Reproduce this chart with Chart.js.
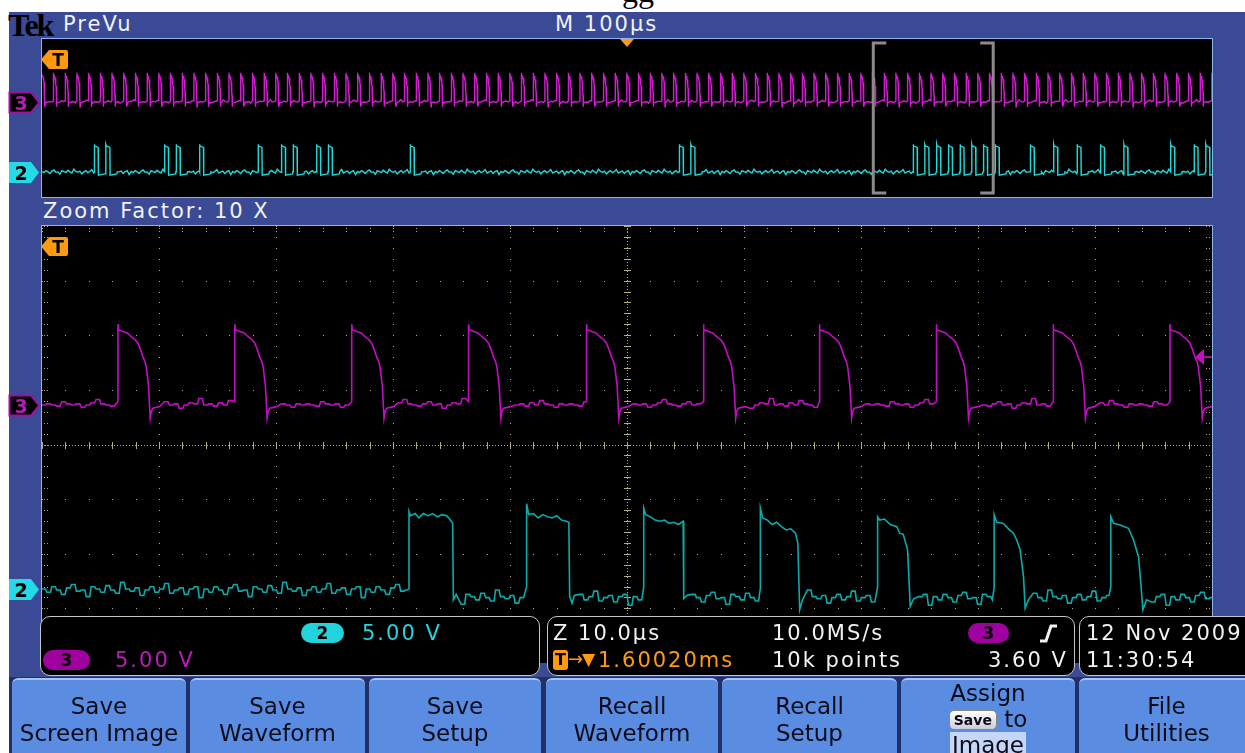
<!DOCTYPE html>
<html lang="en">
<head>
<meta charset="utf-8">
<title>Tek PreVu</title>
<script src="https://cdn.jsdelivr.net/npm/chart.js"></script>
<style>
  body{margin:0;width:1245px;height:753px;background:#fff;position:relative;overflow:hidden;font-family:"DejaVu Sans",sans-serif}
  .abs{position:absolute}
  #scope{left:9px;top:12px;width:1236px;height:665px;background:#3a4a94}
  .panel{border:1px solid #8db4ea;background:#000}
  .lbl{color:#f2f2f2;font-size:21px;letter-spacing:2px;line-height:24px;white-space:nowrap}
  .box{top:616px;height:58px;border:1.5px solid #c4c4c4;border-radius:10px;background:#000}
  .pill{display:inline-block;height:20px;border-radius:10px;color:#000;font-weight:bold;font-size:17px;line-height:20px;text-align:center}
  #keys{left:9px;top:677px;width:1236px;height:76px;background:#22306a}
  .btn{top:678px;height:80px;background:#5a8ce2;border-top:2px solid #a6c4f4;border-radius:6px 6px 0 0;color:#0c0c18;font-size:23px;line-height:27px;text-align:center;box-sizing:border-box;padding-top:13px;white-space:nowrap}
</style>
</head>
<body>
<div class="abs" style="left:622px;top:-24px;font:32px 'Liberation Serif';line-height:30px;color:#000">gg</div>
<div id="scope" class="abs"></div>

<div class="abs" style="left:8px;top:9px;font:bold 32px 'Liberation Serif';letter-spacing:-2px;color:#000;line-height:32px">Tek</div>
<div class="abs lbl" style="left:63px;top:12px">PreVu</div>
<div class="abs lbl" style="left:555px;top:12px">M 100µs</div>
<div class="abs lbl" style="left:43px;top:199px">Zoom Factor: 10 X</div>

<div class="abs panel" style="left:41px;top:38px;width:1170px;height:158px"><canvas id="prev" width="1170" height="158"></canvas></div>
<div class="abs panel" style="left:41px;top:225px;width:1170px;height:437px;border-bottom:none"><canvas id="zoom" width="1170" height="437"></canvas></div>

<!-- trigger tags -->
<svg class="abs" style="left:41px;top:49px" width="28" height="22"><path d="M0 10.5 L8 1 H25 Q27 1 27 3 V18 Q27 20 25 20 H8 Z" fill="#ff9a10"/><text x="17" y="17" font-size="17" font-weight="bold" text-anchor="middle" font-family="DejaVu Sans" fill="#000">T</text></svg>
<svg class="abs" style="left:41px;top:236px" width="28" height="22"><path d="M0 10.5 L8 1 H25 Q27 1 27 3 V18 Q27 20 25 20 H8 Z" fill="#ff9a10"/><text x="17" y="17" font-size="17" font-weight="bold" text-anchor="middle" font-family="DejaVu Sans" fill="#000">T</text></svg>

<!-- channel ground markers -->
<svg class="abs" style="left:8px;top:91px" width="33" height="23"><path d="M1.5 1.5 H23 L31 11.5 L23 21.5 H1.5 Z" fill="#000" stroke="#a010a0" stroke-width="2"/><text x="13" y="19" font-size="19" font-weight="bold" text-anchor="middle" font-family="DejaVu Sans" fill="#b020b0">3</text></svg>
<svg class="abs" style="left:8px;top:161px" width="33" height="23"><path d="M1 1 H23 L31 11.5 L23 22 H1 Z" fill="#22dbe6"/><text x="13" y="19" font-size="19" font-weight="bold" text-anchor="middle" font-family="DejaVu Sans" fill="#000">2</text></svg>
<svg class="abs" style="left:8px;top:394px" width="33" height="23"><path d="M1.5 1.5 H23 L31 11.5 L23 21.5 H1.5 Z" fill="#000" stroke="#a010a0" stroke-width="2"/><text x="13" y="19" font-size="19" font-weight="bold" text-anchor="middle" font-family="DejaVu Sans" fill="#b020b0">3</text></svg>
<svg class="abs" style="left:8px;top:578px" width="33" height="23"><path d="M1 1 H23 L31 11.5 L23 22 H1 Z" fill="#22dbe6"/><text x="13" y="19" font-size="19" font-weight="bold" text-anchor="middle" font-family="DejaVu Sans" fill="#000">2</text></svg>

<!-- readout bar -->
<div class="abs box" style="left:40px;width:498px"></div>
<div class="abs box" style="left:547px;width:526px"></div>
<div class="abs box" style="left:1079px;width:180px"></div>
<div class="abs pill" style="left:301px;top:623px;width:43px;background:#22d3dc">2</div>
<div class="abs lbl" style="left:362px;top:621px;color:#27d3dc">5.00 V</div>
<div class="abs pill" style="left:43px;top:650px;width:47px;background:#a000a0">3</div>
<div class="abs lbl" style="left:115px;top:648px;color:#bb1cbb">5.00 V</div>
<div class="abs lbl" style="left:553px;top:621px">Z 10.0µs</div>
<div class="abs" style="left:553px;top:650px;width:15px;height:20px;background:#ff9a10;border-radius:3px;color:#000;font:bold 16px 'DejaVu Sans';line-height:20px;text-align:center">T</div>
<div class="abs" style="left:568px;top:647px;color:#ff9a10;font-size:18px;line-height:24px">→</div>
<div class="abs" style="left:582px;top:647px;color:#ff9a10;font-size:17px;line-height:24px">▼</div>
<div class="abs lbl" style="left:598px;top:648px;color:#ff9a10">1.60020ms</div>
<div class="abs lbl" style="left:772px;top:621px">10.0MS/s</div>
<div class="abs lbl" style="left:772px;top:648px">10k points</div>
<div class="abs pill" style="left:968px;top:623px;width:41px;background:#a000a0">3</div>
<svg class="abs" style="left:1038px;top:623px" width="20" height="20"><path d="M2 18 H8 L13 3 H19" stroke="#f2f2f2" stroke-width="3" fill="none"/></svg>
<div class="abs lbl" style="left:988px;top:648px">3.60 V</div>
<div class="abs lbl" style="left:1086px;top:621px">12 Nov 2009</div>
<div class="abs lbl" style="left:1086px;top:648px">11:30:54</div>

<!-- softkeys -->
<div id="keys" class="abs"></div>
<div class="abs btn" style="left:12px;width:174px">Save<br>Screen Image</div>
<div class="abs btn" style="left:190px;width:175px">Save<br>Waveform</div>
<div class="abs btn" style="left:369px;width:172px">Save<br>Setup</div>
<div class="abs btn" style="left:546px;width:172px">Recall<br>Waveform</div>
<div class="abs btn" style="left:722px;width:175px">Recall<br>Setup</div>
<div class="abs btn" style="left:901px;width:174px;padding-top:0;line-height:26px">Assign<br><span style="display:inline-block;font:bold 14px 'DejaVu Sans';line-height:18px;padding:0 4px;background:linear-gradient(#fff,#ccd);border-radius:5px;border:1px solid #888;vertical-align:2px">Save</span> to<br><span style="background:#c6d6f6;padding:0 2px">Image</span></div>
<div class="abs btn" style="left:1079px;width:175px">File<br>Utilities</div>

<script>
// ---- zoom window (10 µs/div, time in µs from the left edge) ----
const zoomCh3Rise = [6.49, 16.48, 26.47, 36.46, 46.54, 56.53, 66.44, 76.43, 86.42, 96.41];
// one channel 3 pulse: [µs after rising edge, volts]
const ch3Pulse = [[0,0.3],[0,7.4],[0.05,6.9],[0.5,6.7],[0.8,6.6],[1.14,6.25],[1.45,6.0],[1.71,5.65],[1.95,5.0],[2.13,4.4],
                  [2.3,4.0],[2.42,3.5],[2.52,2.6],[2.62,1.7],[2.76,-1.2],[2.85,-0.6],[2.99,-0.3],[3.56,-0.15]];
// baseline noise, volts
const ch3Noise = [0,0.1,0,-0.1,0.3,0.1,0,0.1,-0.2,0,0.2,0.5,0.1,0,-0.1,0.1,0.3,0,0.1,-0.3,0,0.2,0.1,0.6,0,0.1,-0.1,0.2,0,0.4,0.1,0,-0.2,0.1];
const ch2Noise = [0.1,-0.2,0.3,0,-0.4,0.2,0.5,-0.1,0,-0.6,0.3,0.1,-0.2,0.4,0,-0.3,0.7,0.1,-0.1,0.2,-0.5,0,0.3,-0.2,0.1,0.6,-0.3,0,0.2,-0.4,0.1,0.3,-0.7];
const ch2LowLevel = -0.7;
// channel 2 pulses in the zoom window: [µs, volts]
const zoomCh2Pulses = [
  [[31.37,0.1],[31.37,7.2],[31.5,6.8],[31.9,7.0],[32.2,6.6],[32.6,7.0],[33.0,6.8],[33.4,7.0],[33.8,6.7],[34.2,6.9],[34.6,6.8],[34.9,6.4],[35.1,6.1],[35.16,-0.9],[35.4,-0.4]],
  [[41.42,0.3],[41.42,7.9],[41.6,6.9],[42.0,7.0],[42.4,6.6],[42.8,6.9],[43.2,6.7],[43.6,6.6],[44.0,6.8],[44.4,6.4],[44.8,6.3],[45.03,6.2],[45.1,-0.6],[45.3,-1.2],[45.5,-0.5]],
  [[51.43,0.3],[51.43,7.5],[51.6,6.9],[52.0,6.7],[52.4,6.4],[52.8,6.3],[53.2,6.4],[53.6,6.1],[54.0,6.2],[54.4,6.0],[54.8,6.3],[54.85,-0.8],[55.1,-0.5]],
  [[61.40,0.2],[61.40,7.5],[61.6,6.6],[62.0,6.4],[62.4,6.0],[62.8,6.2],[63.2,5.8],[63.6,5.5],[64.0,5.6],[64.4,5.2],[64.6,4.3],[64.76,-1.8],[65.0,-0.9]],
  [[71.42,0.3],[71.42,6.7],[71.6,6.4],[72.0,6.5],[72.5,6.0],[73.07,5.8],[73.3,5.2],[73.61,5.1],[73.98,3.7],[74.21,-1.5],[74.5,-0.8]],
  [[81.38,0.2],[81.38,6.9],[81.6,6.2],[82.18,6.1],[82.6,5.6],[83.03,5.2],[83.3,4.6],[83.6,3.7],[83.89,1.2],[84.03,-1.65],[84.3,-0.9]],
  [[91.35,0.3],[91.35,6.7],[91.6,6.1],[92.15,5.95],[92.86,5.65],[93.29,4.6],[93.72,3.05],[93.92,0.6],[94.09,-1.8],[94.4,-0.9]]
];
const trigArrowV = 4.4;

// ---- whole record (100 µs/div) ----
const previewCh3Rise = [-0.2,9.8,19.8,29.8,39.8,49.8,59.8,69.8,79.8,89.8,
  99.8,109.8,119.8,129.8,139.8,149.8,159.8,169.8,179.8,189.8,
  199.8,209.8,219.8,229.8,239.8,249.8,259.8,269.8,279.8,289.8,
  299.8,309.8,319.8,329.8,339.8,349.8,359.8,369.8,379.8,389.8,
  399.8,409.8,419.8,429.8,439.8,449.8,459.8,469.8,479.8,489.8,
  499.8,509.8,519.8,529.8,539.8,549.8,559.8,569.8,579.8,589.8,
  599.8,609.8,619.8,629.8,639.8,649.8,659.8,669.8,679.8,689.8,
  699.8,709.8,719.8,729.8,739.8,749.8,759.8,769.8,779.8,789.8,
  799.8,809.8,819.8,829.8,839.8,849.8,859.8,869.8,879.8,889.8,
  899.8,909.8,919.8,929.8,939.8,949.8,959.8,969.8,979.8,989.8,999.8];
const previewCh2Rise = [44.7,54.7,104.7,114.7,134.7,184.7,204.7,214.7,234.7,244.7,314.7,544.7,554.7,
  744.7,754.7,764.7,774.7,784.7,794.7,804.7,814.7,844.7,864.7,884.7,904.7,924.7,964.7,984.7,994.7];
const previewCh2Pulse = [[0,0],[0,7.0],[0.3,6.6],[3.3,6.2],[3.5,-0.8],[9.2,-0.5],[9.6,0]];
const zoomBracket = [710.5, 813];
const triggerTime = 500;

const VOLTS_PER_DIV = 5;
// ground marker of each channel, in divisions below the top edge of the graticule
const zoomGround = {ch3: 3.277, ch2: 6.664};
const prevGround = {ch3: 3.19, ch2: 6.73};

function vAxis(g){ return {type:'linear', display:false, max:g*VOLTS_PER_DIV, min:(g-8)*VOLTS_PER_DIV}; }

// lays the read noise samples along the baseline between pulses, each held for a moment like the scope's samples
function fillBase(pts, from, to, base, noise, st, k){
  for (let t = from; t < to; t += st.step, k++) {
    const v = base + noise[k % noise.length];
    pts.push({x:t, y:v});
    if (st.hold) pts.push({x:Math.min(t + st.hold, to), y:v});
  }
  return k;
}
function pulseTrain(rises, shape, noise, end, st){
  const pts = []; let t = 0, k = 0;
  rises.forEach(r => {
    k = fillBase(pts, t, r - 0.15, 0, noise, st, k);
    shape.forEach(p => pts.push({x:r + p[0], y:p[1]}));
    t = r + shape[shape.length-1][0] + st.step;
  });
  fillBase(pts, t, end, 0, noise, st, k);
  return pts;
}
function ch2Zoom(st){
  const pts = []; let t = 0, k = 0, base = 0;
  zoomCh2Pulses.forEach(p => {
    k = fillBase(pts, t, p[0][0] - 0.15, base, ch2Noise, st, k);
    p.forEach(q => pts.push({x:q[0], y:q[1]}));
    t = p[p.length-1][0] + st.step; base = ch2LowLevel;
  });
  fillBase(pts, t, 100.5, base, ch2Noise, st, k);
  return pts;
}

const graticule = {
  id:'graticule',
  beforeDatasetsDraw(chart){
    const {ctx, chartArea:a} = chart;
    const dw = (a.right - a.left) / 10, dh = (a.bottom - a.top) / 8;
    const dot = (x, y, w = 1, h = 1) => ctx.fillRect(Math.round(x), Math.round(y), w, h);
    ctx.save(); ctx.fillStyle = '#b8aa84';
    for (let i = 1; i < 10; i++) { if (i == 5) continue; for (let j = 0; j <= 40; j++) dot(a.left + i*dw, a.top + j*dh/5); }
    for (let j = 1; j < 8; j++) { if (j == 4) continue; for (let i = 0; i <= 50; i++) dot(a.left + i*dw/5, a.top + j*dh); }
    const cx = a.left + 5*dw, cy = a.top + 4*dh;
    for (let x = a.left; x < a.right; x += 3) dot(x, cy);
    for (let y = a.top; y < a.bottom; y += 3) dot(cx, y);
    for (let i = 0; i <= 50; i++) dot(a.left + i*dw/5, cy - 3, 1, 7);
    for (let j = 0; j <= 40; j++) dot(cx - 3, a.top + j*dh/5, 7, 1);
    for (let j = 0; j <= 40; j++) { const y = a.top + j*dh/5; dot(a.left + 2, y); dot(a.left + 5, y); dot(a.right - 3, y); dot(a.right - 6, y); }
    for (let i = 0; i <= 50; i++) { const x = a.left + i*dw/5; dot(x, a.top + 2); dot(x, a.top + 5); }
    ctx.restore();
  }
};
const trigArrow = {
  id:'trigArrow',
  afterDatasetsDraw(chart){
    const {ctx, chartArea:a, scales} = chart;
    const y = scales.y3.getPixelForValue(trigArrowV);
    ctx.save(); ctx.fillStyle = ctx.strokeStyle = '#c010c0'; ctx.lineWidth = 1.5;
    ctx.beginPath(); ctx.moveTo(a.right - 17, y); ctx.lineTo(a.right - 8, y - 8); ctx.lineTo(a.right - 8, y + 8); ctx.closePath(); ctx.fill();
    ctx.beginPath(); ctx.moveTo(a.right - 8, y); ctx.lineTo(a.right, y); ctx.stroke();
    ctx.restore();
  }
};
const prevMarks = {
  id:'prevMarks',
  afterDatasetsDraw(chart){
    const {ctx, chartArea:a, scales} = chart;
    const x0 = scales.x.getPixelForValue(zoomBracket[0]), x1 = scales.x.getPixelForValue(zoomBracket[1]);
    ctx.save(); ctx.strokeStyle = '#8e8a8a'; ctx.lineWidth = 3;
    ctx.beginPath();
    ctx.moveTo(x0 + 13, a.top + 4); ctx.lineTo(x0, a.top + 4); ctx.lineTo(x0, a.bottom - 4); ctx.lineTo(x0 + 13, a.bottom - 4);
    ctx.moveTo(x1 - 13, a.top + 4); ctx.lineTo(x1, a.top + 4); ctx.lineTo(x1, a.bottom - 4); ctx.lineTo(x1 - 13, a.bottom - 4);
    ctx.stroke();
    const tx = scales.x.getPixelForValue(triggerTime);
    ctx.fillStyle = '#ff9a10';
    ctx.beginPath(); ctx.moveTo(tx - 7, a.top); ctx.lineTo(tx + 7, a.top); ctx.lineTo(tx, a.top + 8); ctx.closePath(); ctx.fill();
    ctx.restore();
  }
};

const common = {
  responsive:false, animation:false, devicePixelRatio:1, events:[],
  layout:{padding:0},
  plugins:{legend:{display:false}, tooltip:{enabled:false}},
  elements:{point:{radius:0}, line:{tension:0, borderJoinStyle:'miter'}}
};

const prevStep = {step:1.7, hold:0};
const zoomStep = {step:0.42, hold:0.3};

new Chart(document.getElementById('prev'), {
  type:'line',
  data:{datasets:[
    {data:pulseTrain(previewCh3Rise, ch3Pulse, ch3Noise, 1000, prevStep), yAxisID:'y3', borderColor:'#d41cd4', borderWidth:1.4},
    {data:pulseTrain(previewCh2Rise, previewCh2Pulse, ch2Noise, 1000, prevStep), yAxisID:'y2', borderColor:'#20dada', borderWidth:1.4}
  ]},
  options:Object.assign({}, common, {
    scales:{x:{type:'linear', display:false, min:0, max:1000}, y3:vAxis(prevGround.ch3), y2:vAxis(prevGround.ch2)}
  }),
  plugins:[prevMarks]
});

new Chart(document.getElementById('zoom'), {
  type:'line',
  data:{datasets:[
    {data:pulseTrain(zoomCh3Rise, ch3Pulse, ch3Noise, 100.5, zoomStep), yAxisID:'y3', borderColor:'#c40cc4', borderWidth:1.6},
    {data:ch2Zoom(zoomStep), yAxisID:'y2', borderColor:'#0caaaa', borderWidth:1.6}
  ]},
  options:Object.assign({}, common, {
    scales:{x:{type:'linear', display:false, min:0, max:100}, y3:vAxis(zoomGround.ch3), y2:vAxis(zoomGround.ch2)}
  }),
  plugins:[graticule, trigArrow]
});
</script>
</body>
</html>
